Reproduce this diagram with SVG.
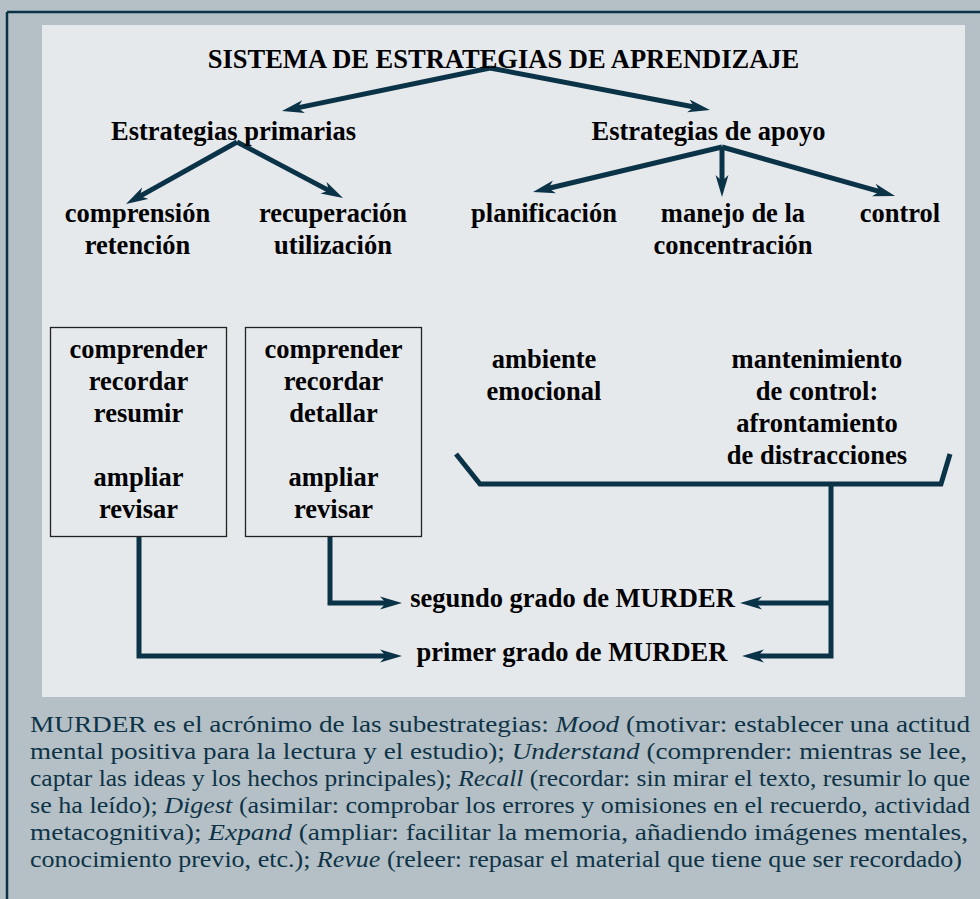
<svg xmlns="http://www.w3.org/2000/svg" width="980" height="899" viewBox="0 0 980 899">
<style>
.t{font-family:"Liberation Serif","Times New Roman",serif;font-weight:bold;font-size:26.5px;fill:#000;text-anchor:middle}
.b{font-family:"Liberation Serif","Times New Roman",serif;font-size:24px;fill:#0e3346}
.i{font-style:italic}
.c{fill:none;stroke:#0b3347;stroke-width:5}
.box{fill:none;stroke:#222;stroke-width:1.3}
</style>
<defs>
<marker id="ah" markerUnits="userSpaceOnUse" markerWidth="24" markerHeight="14" refX="10" refY="7" orient="auto" viewBox="0 0 24 14">
<path d="M0,0.5 L22,7 L0,13.5 L6,7 Z" fill="#0b3347"/>
</marker>
</defs>
<rect x="0" y="0" width="980" height="899" fill="#b4c0c6"/>
<line x1="7" y1="12" x2="980" y2="12" stroke="#0b3347" stroke-width="2.5"/>
<line x1="7" y1="12" x2="7" y2="899" stroke="#0b3347" stroke-width="2.5"/>
<rect x="42" y="25" width="923" height="672" fill="#e6e9ec"/>

<g id="connectors">
<path class="c" d="M490,68 L293.7,108.6" marker-end="url(#ah)"/>
<path class="c" d="M490,68 L698.2,107.8" marker-end="url(#ah)"/>
<path class="c" d="M237,142 L136.5,198.1" marker-end="url(#ah)"/>
<path class="c" d="M237,142 L332.4,192.4" marker-end="url(#ah)"/>
<path class="c" d="M722,147 L544.7,189.2" marker-end="url(#ah)"/>
<path class="c" d="M722,147 L722,185" marker-end="url(#ah)"/>
<path class="c" d="M722,147 L883.5,192.7" marker-end="url(#ah)"/>
<path class="c" d="M456,454 L480,484 H941 L950,454"/>
<path class="c" d="M139,537 V656 H390" marker-end="url(#ah)"/>
<path class="c" d="M330,537 V603 H390" marker-end="url(#ah)"/>
<path class="c" d="M831,603 H752" marker-end="url(#ah)"/>
<path class="c" d="M831,484 V656 H754" marker-end="url(#ah)"/>
</g>

<g id="sistema"><text class="t" x="503.5" y="68">SISTEMA DE ESTRATEGIAS DE APRENDIZAJE</text></g>
<g id="primarias"><text class="t" x="233.5" y="140">Estrategias primarias</text></g>
<g id="apoyo"><text class="t" x="708.5" y="140">Estrategias de apoyo</text></g>
<g id="comprension"><text class="t" x="137.5" y="222">comprensión</text><text class="t" x="137.5" y="254">retención</text></g>
<g id="recuperacion"><text class="t" x="333" y="222">recuperación</text><text class="t" x="333" y="254">utilización</text></g>
<g id="planificacion"><text class="t" x="544" y="222">planificación</text></g>
<g id="manejo"><text class="t" x="733" y="222">manejo de la</text><text class="t" x="733" y="254">concentración</text></g>
<g id="control"><text class="t" x="900" y="222">control</text></g>

<g id="box1">
<rect class="box" x="50.5" y="327.5" width="176" height="209"/>
<text class="t" x="138.5" y="358">comprender</text>
<text class="t" x="138.5" y="390">recordar</text>
<text class="t" x="138.5" y="422">resumir</text>
<text class="t" x="138.5" y="486">ampliar</text>
<text class="t" x="138.5" y="518">revisar</text>
</g>
<g id="box2">
<rect class="box" x="245.5" y="327.5" width="176" height="209"/>
<text class="t" x="333.5" y="358">comprender</text>
<text class="t" x="333.5" y="390">recordar</text>
<text class="t" x="333.5" y="422">detallar</text>
<text class="t" x="333.5" y="486">ampliar</text>
<text class="t" x="333.5" y="518">revisar</text>
</g>
<g id="ambiente"><text class="t" x="544" y="368">ambiente</text><text class="t" x="544" y="400">emocional</text></g>
<g id="mantenimiento">
<text class="t" x="817" y="368">mantenimiento</text>
<text class="t" x="817" y="400">de control:</text>
<text class="t" x="817" y="432">afrontamiento</text>
<text class="t" x="817" y="464">de distracciones</text>
</g>
<g id="segundo"><text class="t" x="572.5" y="607">segundo grado de MURDER</text></g>
<g id="primer"><text class="t" x="572" y="661">primer grado de MURDER</text></g>

<g id="nota">
<text class="b" x="30" y="732" textLength="940" lengthAdjust="spacingAndGlyphs">MURDER es el acrónimo de las subestrategias: <tspan class="i">Mood</tspan> (motivar: establecer una actitud</text>
<text class="b" x="30" y="759" textLength="937" lengthAdjust="spacingAndGlyphs">mental positiva para la lectura y el estudio); <tspan class="i">Understand</tspan> (comprender: mientras se lee,</text>
<text class="b" x="30" y="786" textLength="940" lengthAdjust="spacingAndGlyphs">captar las ideas y los hechos principales); <tspan class="i">Recall</tspan> (recordar: sin mirar el texto, resumir lo que</text>
<text class="b" x="30" y="813" textLength="940" lengthAdjust="spacingAndGlyphs">se ha leído); <tspan class="i">Digest</tspan> (asimilar: comprobar los errores y omisiones en el recuerdo, actividad</text>
<text class="b" x="30" y="840" textLength="938" lengthAdjust="spacingAndGlyphs">metacognitiva); <tspan class="i">Expand</tspan> (ampliar: facilitar la memoria, añadiendo imágenes mentales,</text>
<text class="b" x="30" y="867" textLength="932" lengthAdjust="spacingAndGlyphs">conocimiento previo, etc.); <tspan class="i">Revue</tspan> (releer: repasar el material que tiene que ser recordado)</text>
</g>
</svg>
